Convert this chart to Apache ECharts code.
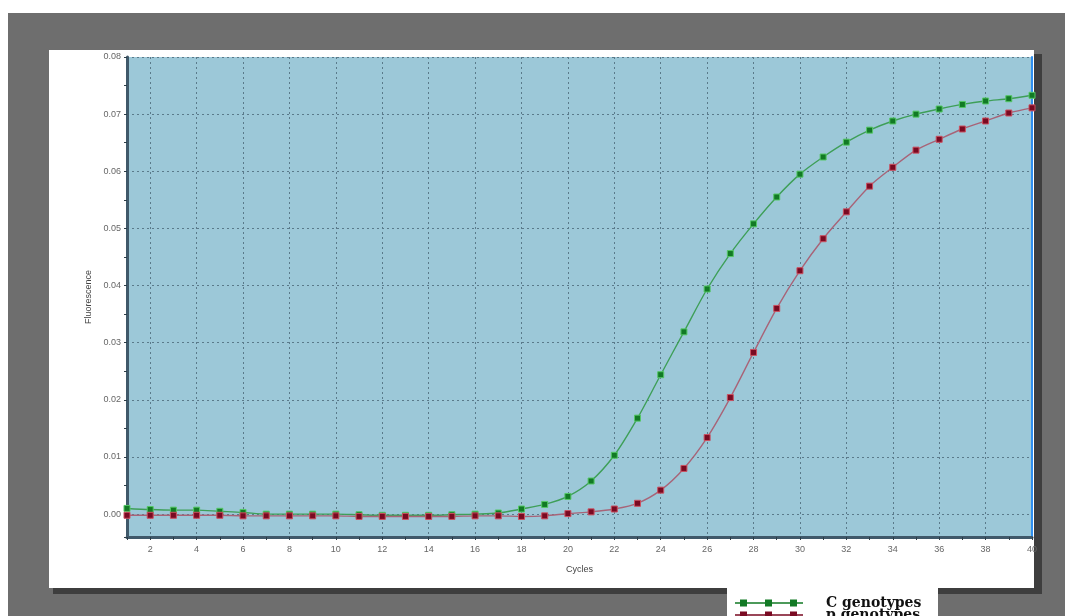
<!DOCTYPE html>
<html>
<head>
<meta charset="utf-8">
<script src="https://cdn.jsdelivr.net/npm/echarts@6/dist/echarts.min.js"></script>
<style>html,body{margin:0;padding:0;background:#fff;}#c{width:1065px;height:616px;}</style>
</head>
<body>
<div id="c"></div>
<script>
const cycles = [1,2,3,4,5,6,7,8,9,10,11,12,13,14,15,16,17,18,19,20,21,22,23,24,25,26,27,28,29,30,31,32,33,34,35,36,37,38,39,40];
const cGenotypes = [0.0010,0.0008,0.0007,0.0007,0.0005,0.0003,0.0000,0.0000,0.0000,0.0000,-0.0001,-0.0002,-0.0002,-0.0002,-0.0001,0.0000,0.0002,0.0009,0.0017,0.0031,0.0058,0.0103,0.0168,0.0244,0.0319,0.0394,0.0456,0.0508,0.0555,0.0595,0.0625,0.0651,0.0672,0.0688,0.0700,0.0709,0.0717,0.0723,0.0727,0.0733];
const pGenotypes = [-0.0002,-0.0002,-0.0002,-0.0002,-0.0002,-0.0003,-0.0003,-0.0003,-0.0003,-0.0003,-0.0004,-0.0004,-0.0004,-0.0004,-0.0004,-0.0003,-0.0003,-0.0004,-0.0003,0.0001,0.0004,0.0009,0.0019,0.0042,0.0080,0.0134,0.0204,0.0283,0.0360,0.0426,0.0482,0.0529,0.0574,0.0607,0.0637,0.0656,0.0674,0.0688,0.0702,0.0711];
const seriesNames = ['C genotypes','p genotypes'];
const yMin = -0.004, yMax = 0.08;

const chart = echarts.init(document.getElementById('c'));
const legendIcon = 'path://M0,4.3L68,4.3L68,5.7L0,5.7Z M5,1.5L12,1.5L12,8.5L5,8.5Z M30,1.5L37,1.5L37,8.5L30,8.5Z M55,1.5L62,1.5L62,8.5L55,8.5Z';
function legendFor(name, top) {
  return {
    orient:'vertical', left:730, top:top, itemGap:0, itemWidth:68, itemHeight:10,
    icon: legendIcon, selectedMode:false,
    itemStyle:{borderWidth:0},
    textStyle:{fontFamily:'DejaVu Serif', fontWeight:'bold', fontSize:14, color:'#111', padding:[0,0,0,18]},
    data:[name]
  };
}
chart.setOption({
  animation: false,
  backgroundColor: '#ffffff',
  graphic: [
    {type:'rect', z:-10, shape:{x:8,y:13,width:1057,height:603}, style:{fill:'#6e6e6e'}},
    {type:'rect', z:-9, shape:{x:53,y:54,width:989,height:540}, style:{fill:'#3e3e3e'}},
    {type:'rect', z:-8, shape:{x:49,y:50,width:985,height:538}, style:{fill:'#ffffff'}},
    {type:'rect', z:-7, shape:{x:727,y:588,width:211,height:28}, style:{fill:'#ffffff'}}
  ],
  grid: {left:127, right:33, top:57, bottom:79, show:true, backgroundColor:'#9cc8d8', borderWidth:0},
  legend: [legendFor(seriesNames[0], 591), legendFor(seriesNames[1], 603)],
  xAxis: {
    type:'category', data: cycles, boundaryGap:false,
    name:'Cycles', nameLocation:'middle', nameGap:28,
    nameTextStyle:{fontFamily:'Liberation Sans', fontSize:9, color:'#444'},
    axisLine:{onZero:false, lineStyle:{color:'#40596a', width:3}},
    axisTick:{interval:0, length:3, lineStyle:{color:'#2e3e48'}},
    axisLabel:{interval:(i,v)=> Number(v)%2===0, fontFamily:'Liberation Sans', fontSize:9, color:'#666', margin:8},
    splitLine:{show:true, interval:(i,v)=> Number(v)%2===0, lineStyle:{type:[2,3], color:'#5a7a8a', width:1}}
  },
  yAxis: [{
    type:'value', min:yMin, max:yMax, minInterval:0.01, maxInterval:0.01, splitNumber:8,
    name:'Fluorescence', nameLocation:'middle', nameGap:31, nameRotate:90,
    nameTextStyle:{fontFamily:'Liberation Sans', fontSize:9, color:'#444'},
    axisLine:{show:true, lineStyle:{color:'#40596a', width:3}},
    axisTick:{show:true, length:3, lineStyle:{color:'#2e3e48'}},
    minorTick:{show:true, splitNumber:2, length:3, lineStyle:{color:'#2e3e48'}},
    axisLabel:{showMinLabel:false, formatter:v=>v.toFixed(2), fontFamily:'Liberation Sans', fontSize:9, color:'#666', margin:6},
    splitLine:{show:true, lineStyle:{type:[2,3], color:'#5a7a8a', width:1}}
  },{
    type:'value', min:yMin, max:yMax, position:'right',
    axisLine:{show:true, lineStyle:{color:'#2f8ff0', width:2}},
    axisTick:{show:false}, axisLabel:{show:false}, splitLine:{show:false}
  }],
  series: [
    {name:seriesNames[0], type:'line', data:cGenotypes, smooth:0.3, symbol:'rect', symbolSize:6,
     lineStyle:{color:'#3e9f58', width:1.4},
     itemStyle:{color:'#127a25', borderColor:'#55c866', borderWidth:1}},
    {name:seriesNames[1], type:'line', data:pGenotypes, smooth:0.3, symbol:'rect', symbolSize:6,
     lineStyle:{color:'#a86478', width:1.4},
     itemStyle:{color:'#7a0a22', borderColor:'#cc5060', borderWidth:1}}
  ]
});
</script>
</body>
</html>
